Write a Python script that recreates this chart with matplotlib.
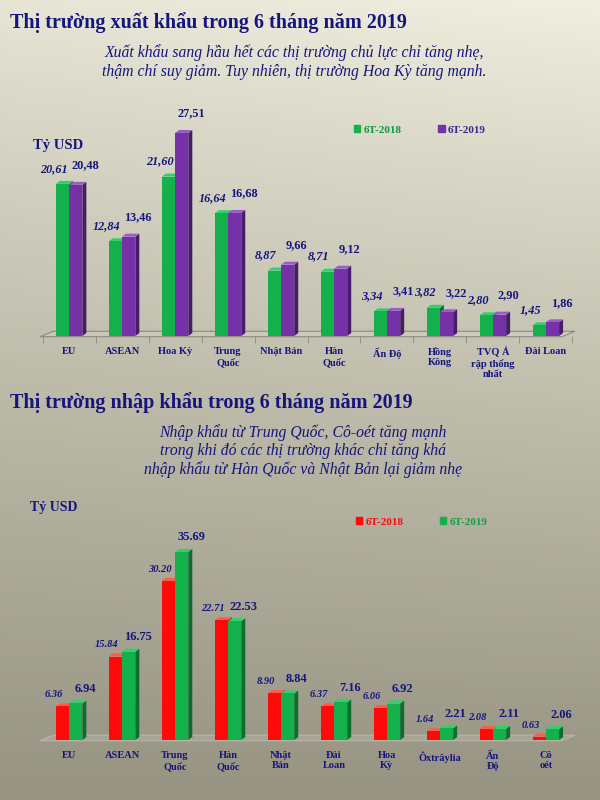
import numpy as np
import matplotlib
matplotlib.use("Agg")
import matplotlib.pyplot as plt
from matplotlib.patches import Patch

plt.rcParams['font.family'] = ['Liberation Serif', 'DejaVu Serif']

# ---- data ----
exp_markets = ['EU', 'ASEAN', 'Hoa Kỳ', 'Trung\nQuốc', 'Nhật Bản', 'Hàn\nQuốc',
               'Ấn Độ', 'Hồng\nKông', 'TVQ Ả\nrập thống\nnhất', 'Đài Loan']
exp_2018 = [20.61, 12.84, 21.60, 16.64, 8.87, 8.71, 3.34, 3.82, 2.80, 1.45]
exp_2019 = [20.48, 13.46, 27.51, 16.68, 9.66, 9.12, 3.41, 3.22, 2.90, 1.86]

imp_markets = ['EU', 'ASEAN', 'Trung\nQuốc', 'Hàn\nQuốc', 'Nhật\nBản', 'Đài\nLoan',
               'Hoa\nKỳ', 'Ôxtrâylia', 'Ấn\nĐộ', 'Cô\noét']
imp_2018 = [6.36, 15.84, 30.20, 22.71, 8.90, 6.37, 6.06, 1.64, 2.08, 0.63]
imp_2019 = [6.94, 16.75, 35.69, 22.53, 8.84, 7.16, 6.92, 2.21, 2.11, 2.06]

series_labels = ['6T-2018', '6T-2019']

NAVY = '#15157e'
GREEN = '#13b04b'
GREEN_D = '#0b6e2e'
GREEN_T = '#2fd069'
PURPLE = '#7532a6'
PURPLE_D = '#471c68'
PURPLE_T = '#9a5cc9'
RED = '#ff0a0a'
RED_D = '#a00000'
RED_T = '#ff5a4a'

fig = plt.figure(figsize=(6, 8), dpi=100)

# background gradient
bg = fig.add_axes([0, 0, 1, 1], zorder=-10)
ny, nx = 200, 60
ty = np.linspace(0, 1, ny)[:, None]
tx = np.linspace(0, 1, nx)[None, :]
top = np.array([231, 229, 213]) / 255
bot = np.array([150, 147, 130]) / 255
img = top + (bot - top) * ty[..., None] ** 0.9
img = img + (0.04 * tx * (1 - ty))[..., None]
bg.imshow(np.clip(img, 0, 1), aspect='auto', extent=[0, 1, 0, 1])
bg.set_axis_off()


def bar3d(ax, x0, w, h, face, dark, topc, dx, dy):
    ax.bar(x0, h, w, align='edge', color=face, zorder=3)
    ax.fill([x0 + w, x0 + w + dx, x0 + w + dx, x0 + w],
            [0, dy, h + dy, h], color=dark, zorder=2, lw=0)
    ax.fill([x0, x0 + dx, x0 + w + dx, x0 + w],
            [h, h + dy, h + dy, h], color=topc, zorder=2, lw=0)


def chart(ax, labels, v1, v2, cols, ymax, dy, sep, off1, off2, fs1, fs2, floor_col):
    x = np.arange(len(labels))
    w = 0.25
    dx = 0.075
    # floor
    ax.fill([-0.55, 9.3, 9.55, -0.3], [-0.25 * dy, -0.25 * dy, 1.6 * dy, 1.6 * dy],
            facecolor=(1, 1, 1, 0.12), edgecolor=floor_col, lw=0.8, zorder=1, clip_on=False)
    for i in range(len(labels)):
        bar3d(ax, x[i] - w, w, v1[i], cols[0][0], cols[0][1], cols[0][2], dx, dy)
        bar3d(ax, x[i], w, v2[i], cols[1][0], cols[1][1], cols[1][2], dx, dy)
        ax.annotate(f"{v1[i]:.2f}".replace('.', sep), (x[i] - 0.29, v1[i] + dy),
                    xytext=(0, off1), textcoords='offset points', ha='center', va='bottom',
                    fontsize=fs1, fontweight='bold', fontstyle='italic', color=NAVY)
        ax.annotate(f"{v2[i]:.2f}".replace('.', sep), (x[i] + 0.3, v2[i] + dy),
                    xytext=(0, off2), textcoords='offset points', ha='center', va='bottom',
                    fontsize=fs2, fontweight='bold', color=NAVY)
    ax.set_xlim(-0.55, 9.55)
    ax.set_ylim(0, ymax)
    ax.set_xticks(x)
    ax.set_xticklabels(labels, fontsize=7.5, fontweight='bold', color=NAVY, linespacing=1.15,
                       va='top')
    ax.tick_params(axis='x', length=0, pad=8)
    ax.set_yticks([])
    for s in ax.spines.values():
        s.set_visible(False)
    ax.patch.set_alpha(0)


# ---- export chart ----
fig.text(10 / 600, 1 - 23 / 800, 'Thị trường xuất khẩu trong 6 tháng năm 2019',
         fontsize=14.5, fontweight='bold', color=NAVY, va='center')
fig.text(0.49, 1 - 62 / 800,
         'Xuất khẩu sang hầu hết các thị trường chủ lực chỉ tăng nhẹ,\n'
         'thậm chí suy giảm. Tuy nhiên, thị trường Hoa Kỳ tăng mạnh.',
         fontsize=11.3, fontstyle='italic', color=NAVY, ha='center', va='center',
         linespacing=1.2)

ax1 = fig.add_axes([40 / 600, 0.58, 535 / 600, 0.2768])
chart(ax1, exp_markets, exp_2018, exp_2019,
      [(GREEN, GREEN_D, GREEN_T), (PURPLE, PURPLE_D, PURPLE_T)],
      30, 0.4, ',', 4.5, 7.5, 8.8, 8.8, '#8c8a7c')
ax1.set_xticks(np.arange(-0.5, 10, 1), minor=True)
ax1.tick_params(axis='x', which='minor', length=5, color='#8c8a7c', direction='out')
fig.text(33 / 600, 1 - 146 / 800, 'Tỷ USD', fontsize=10.5, fontweight='bold', color=NAVY,
         va='center')
leg1 = fig.legend(handles=[Patch(color=GREEN), Patch(color=PURPLE)], labels=series_labels,
                  loc='center', bbox_to_anchor=(0.70, 1 - 130 / 800), ncol=2, frameon=False,
                  handlelength=0.55, handleheight=0.55, handletextpad=0.3, columnspacing=3.3,
                  prop={'size': 8, 'weight': 'bold'})
leg1.get_texts()[0].set_color('#109a40')
leg1.get_texts()[1].set_color('#3a2a8a')

# ---- import chart ----
fig.text(10 / 600, 1 - 403 / 800, 'Thị trường nhập khẩu trong 6 tháng năm 2019',
         fontsize=14.5, fontweight='bold', color=NAVY, va='center')
fig.text(0.505, 1 - 451 / 800,
         'Nhập khẩu từ Trung Quốc, Cô-oét tăng mạnh\n'
         'trong khi đó các thị trường khác chỉ tăng khá\n'
         'nhập khẩu từ Hàn Quốc và Nhật Bản lại giảm nhẹ',
         fontsize=11.3, fontstyle='italic', color=NAVY, ha='center', va='center',
         linespacing=1.15)

ax2 = fig.add_axes([40 / 600, 0.075, 535 / 600, 0.2635])
chart(ax2, imp_markets, imp_2018, imp_2019,
      [(RED, RED_D, RED_T), (GREEN, GREEN_D, GREEN_T)],
      40, 0.57, '.', 3, 4, 7.5, 9, '#b9b6a6')
fig.text(30 / 600, 1 - 508 / 800, 'Tỷ USD', fontsize=10, fontweight='bold', color=NAVY,
         va='center')
leg2 = fig.legend(handles=[Patch(color=RED), Patch(color=GREEN)], labels=series_labels,
                  loc='center', bbox_to_anchor=(0.703, 1 - 522 / 800), ncol=2, frameon=False,
                  handlelength=0.55, handleheight=0.55, handletextpad=0.3, columnspacing=3.3,
                  prop={'size': 8, 'weight': 'bold'})
leg2.get_texts()[0].set_color(RED)
leg2.get_texts()[1].set_color('#13a048')

fig.savefig('out.png', dpi=100)
